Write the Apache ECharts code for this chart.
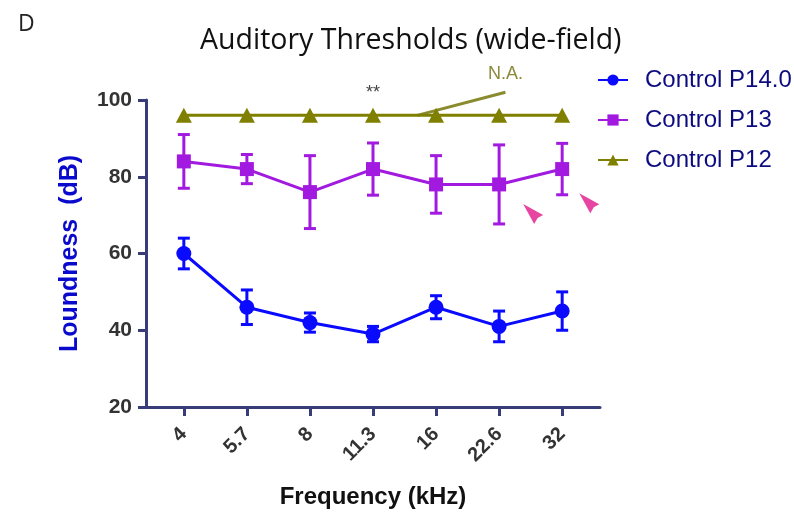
<!DOCTYPE html>
<html>
<head>
<meta charset="utf-8">
<script src="https://cdn.jsdelivr.net/npm/echarts@6/dist/echarts.min.js"></script>
<style>
  html, body { margin: 0; padding: 0; background: #fff; }
  #main { width: 794px; height: 513px; }
</style>
</head>
<body>
<div id="main"></div>
<script>
// frequencies (kHz)
var freqs = ['4', '5.7', '8', '11.3', '16', '22.6', '32'];

var p14 = [60, 46, 42, 39, 46, 41, 45];
var p14Err = [4, 4.5, 2.5, 2, 3, 4, 5];

var p13 = [84, 82, 76, 82, 78, 78, 82];
var p13Err = [7, 3.8, 9.5, 6.8, 7.5, 10.3, 6.7];

var p12 = [96, 96, 96, 96, 96, 96, 96];

var yTicks = [20, 40, 60, 80, 100];

// annotation spots, in data coords (x = freq index)
var starsAt = [3, 101.8];
var naLine = [[3.7, 96], [5.1, 102]];
var naText = [5.1, 104.3];
var arrows = [[5.54, 70.3], [6.43, 73.1]];

var axisColor = '#383d7a';
var cBlue = '#0a0aff', cMag = '#a21ae0', cOlive = '#7f7f00';
var font = 'Liberation Sans';

function pts(arr) {
  return arr.map(function (v, i) { return [i, v]; });
}
function errData(vals, errs) {
  return vals.map(function (v, i) { return [i, v - errs[i], v + errs[i]]; });
}

function errSeries(vals, errs, color) {
  return {
    type: 'custom',
    silent: true,
    z: 3,
    data: errData(vals, errs),
    renderItem: function (params, api) {
      var lo = api.coord([api.value(0), api.value(1)]);
      var hi = api.coord([api.value(0), api.value(2)]);
      var w = 6;
      var st = { stroke: color, lineWidth: 3 };
      return {
        type: 'group',
        children: [
          { type: 'line', shape: { x1: lo[0], y1: lo[1], x2: hi[0], y2: hi[1] }, style: st },
          { type: 'line', shape: { x1: lo[0] - w, y1: lo[1], x2: lo[0] + w, y2: lo[1] }, style: st },
          { type: 'line', shape: { x1: hi[0] - w, y1: hi[1], x2: hi[0] + w, y2: hi[1] }, style: st }
        ]
      };
    }
  };
}

var chart = echarts.init(document.getElementById('main'));

var option = {
  animation: false,
  title: [
    { text: 'D', left: 13, top: 8, textStyle: { fontFamily: 'Open Sans', fontWeight: 'normal', fontSize: 23, color: '#222' } },
    { text: 'Auditory Thresholds (wide-field)', left: 195, top: 21, textStyle: { fontFamily: 'Open Sans', fontWeight: 'normal', fontSize: 28.5, color: '#111' } }
  ],
  legend: {
    orient: 'vertical',
    left: 592,
    top: 63,
    itemGap: 16,
    itemWidth: 30,
    itemHeight: 14,
    data: ['Control P14.0', 'Control P13', 'Control P12'],
    textStyle: { fontFamily: font, fontSize: 24, color: '#0c0c80', padding: [0, 0, 0, 12] }
  },
  grid: { left: 146, right: 194, top: 100, bottom: 106, outerBoundsMode: 'none' },
  xAxis: {
    type: 'value',
    min: -0.6,
    max: 6.6,
    name: 'Frequency (kHz)',
    nameLocation: 'middle',
    nameGap: 78,
    nameTextStyle: { fontFamily: font, fontWeight: 'bold', fontSize: 24, color: '#111' },
    splitLine: { show: false },
    axisLine: { onZero: false, lineStyle: { color: axisColor, width: 3 } },
    axisTick: { customValues: freqs.map(function (f, i) { return i; }), length: 9, lineStyle: { color: axisColor, width: 3 } },
    axisLabel: {
      customValues: freqs.map(function (f, i) { return i; }),
      rotate: 45,
      margin: 24,
      fontFamily: font,
      fontWeight: 'bold',
      fontSize: 20,
      color: '#333',
      formatter: function (v) { return freqs[Math.round(v)]; }
    }
  },
  yAxis: {
    type: 'value',
    min: yTicks[0],
    max: yTicks[yTicks.length - 1],
    interval: 20,
    name: 'Loundness  (dB)',
    nameLocation: 'middle',
    nameGap: 63,
    nameTextStyle: { fontFamily: font, fontWeight: 'bold', fontSize: 25, color: '#0a0acc' },
    splitLine: { show: false },
    axisLine: { show: true, onZero: false, lineStyle: { color: axisColor, width: 3 } },
    axisTick: { show: true, length: 8, lineStyle: { color: axisColor, width: 3 } },
    axisLabel: { margin: 14, fontFamily: font, fontWeight: 'bold', fontSize: 21, color: '#333' }
  },
  series: [
    {
      name: 'Control P14.0', type: 'line', data: pts(p14), z: 4,
      symbol: 'circle', symbolSize: 15,
      itemStyle: { color: cBlue }, lineStyle: { color: cBlue, width: 3 }
    },
    {
      name: 'Control P13', type: 'line', data: pts(p13), z: 4,
      symbol: 'rect', symbolSize: 14,
      itemStyle: { color: cMag }, lineStyle: { color: cMag, width: 3 }
    },
    {
      name: 'Control P12', type: 'line', data: pts(p12), z: 4,
      symbol: 'triangle', symbolSize: [16, 15],
      itemStyle: { color: cOlive }, lineStyle: { color: cOlive, width: 3 }
    },
    errSeries(p14, p14Err, cBlue),
    errSeries(p13, p13Err, cMag),
    {
      type: 'scatter', silent: true, clip: false, z: 5,
      data: arrows,
      // arrowhead with its tip at the top-left
      symbol: 'path://M0,0 L20,11 L14.5,14 L11,20 Z',
      symbolSize: [20, 20],
      itemStyle: { color: '#e0188a' }
    }
  ]
};

chart.setOption(option);

// text annotations placed from data coords
var sp = chart.convertToPixel({ gridIndex: 0 }, starsAt);
var l0 = chart.convertToPixel({ gridIndex: 0 }, naLine[0]);
var l1 = chart.convertToPixel({ gridIndex: 0 }, naLine[1]);
var tp = chart.convertToPixel({ gridIndex: 0 }, naText);

chart.setOption({
  graphic: [
    { type: 'text', x: sp[0], y: sp[1], style: { text: '**', fontFamily: font, fontSize: 18, fill: '#444', align: 'center', verticalAlign: 'middle' } },
    { type: 'line', shape: { x1: l0[0], y1: l0[1], x2: l1[0], y2: l1[1] }, style: { stroke: '#8a8a2e', lineWidth: 3 } },
    { type: 'text', x: tp[0], y: tp[1], style: { text: 'N.A.', fontFamily: font, fontSize: 18, fill: '#8a8a3a', align: 'center', verticalAlign: 'bottom' } }
  ]
});
</script>
</body>
</html>
